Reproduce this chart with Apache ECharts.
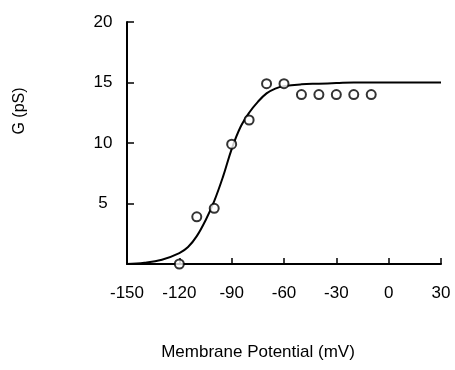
<!DOCTYPE html>
<html>
<head>
<meta charset="utf-8">
<script src="https://cdn.jsdelivr.net/npm/echarts@6/dist/echarts.min.js"></script>
<style>html,body{margin:0;padding:0;background:#fff}#c{width:455px;height:370px}</style>
</head>
<body>
<div id="c"></div>
<script>
// Measured conductance points
const pointX = [-120, -110, -100, -90, -80, -70, -60, -50, -40, -30, -20, -10];
const pointY = [0, 3.9, 4.6, 9.9, 11.9, 14.9, 14.9, 14.0, 14.0, 14.0, 14.0, 14.0];
// Fitted curve
const curveX = [-150, -140, -130, -120, -115, -110, -105, -100, -95, -90, -85, -80, -75, -70, -65, -60, -50, -40, -30, -20, 0, 30];
const curveY = [0, 0.1, 0.35, 0.9, 1.4, 2.3, 3.6, 5.2, 7.2, 9.5, 11.3, 12.5, 13.4, 14.1, 14.5, 14.7, 14.85, 14.9, 14.95, 15, 15, 15];
const xTicks = [-150, -120, -90, -60, -30, 0, 30];
const yTicks = [0, 5, 10, 15, 20];
const xTitle = 'Membrane Potential (mV)';
const yTitle = 'G (pS)';

const FONT = "'Liberation Sans', 'DejaVu Sans', sans-serif";
const chart = echarts.init(document.getElementById('c'), null, {renderer: 'canvas'});
chart.setOption({
  animation: false,
  backgroundColor: '#fff',
  grid: {left: 127, right: 14, top: 22, bottom: 106},
  xAxis: {
    type: 'value', min: xTicks[0], max: xTicks[xTicks.length - 1], interval: 30,
    axisLine: {onZero: false, lineStyle: {color: '#000', width: 2}},
    axisTick: {inside: true, length: 6, lineStyle: {color: '#000', width: 1.5}},
    axisLabel: {color: '#000', fontSize: 17, fontFamily: FONT, margin: 21},
    splitLine: {show: false}
  },
  yAxis: {
    type: 'value', min: yTicks[0], max: yTicks[yTicks.length - 1], interval: 5,
    axisLine: {show: true, onZero: false, lineStyle: {color: '#000', width: 2}},
    axisTick: {show: true, inside: true, length: 7, lineStyle: {color: '#000', width: 1.5}},
    axisLabel: {color: '#000', fontSize: 17, fontFamily: FONT, margin: 24, align: 'center',
      formatter: v => (v === 0 ? '' : String(v))},
    splitLine: {show: false}
  },
  graphic: [
    {type: 'text', x: 20, y: 111, rotation: Math.PI / 2,
     style: {text: yTitle, fill: '#000', font: '16px ' + FONT, align: 'center', verticalAlign: 'middle'}},
    {type: 'text', x: 258, y: 352,
     style: {text: xTitle, fill: '#000', font: '17px ' + FONT, align: 'center', verticalAlign: 'middle'}}
  ],
  series: [
    {
      type: 'line', data: curveX.map((x, i) => [x, curveY[i]]), smooth: 0.4,
      showSymbol: false, lineStyle: {color: '#000', width: 2}, z: 2
    },
    {
      type: 'scatter', data: pointX.map((x, i) => [x, pointY[i]]),
      symbol: 'circle', symbolSize: 9,
      itemStyle: {color: '#fff', borderColor: '#000', borderWidth: 2}, z: 3
    }
  ]
});
</script>
</body>
</html>
